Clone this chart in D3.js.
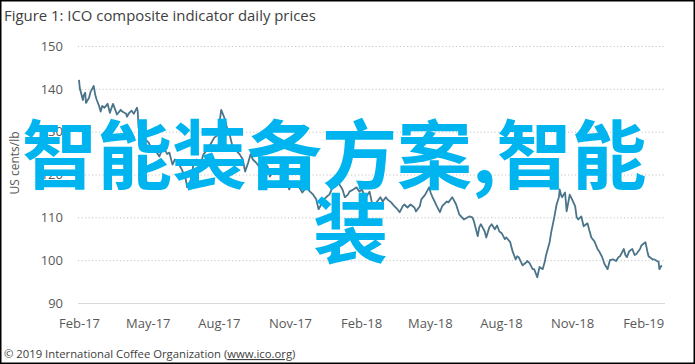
<!DOCTYPE html>
<html>
<head>
<meta charset="utf-8">
<script src="https://cdn.jsdelivr.net/npm/d3@7"></script>
<style>
  body { margin: 0; background: #fff; }
  svg { display: block; }
  text { font-family: "Open Sans", sans-serif; }
</style>
</head>
<body>
<div id="chart"></div>
<script>
const dates = [
  "2017-02-01","2017-02-02","2017-02-06","2017-02-07","2017-02-09","2017-02-10","2017-02-14","2017-02-16","2017-02-20","2017-02-22","2017-02-24","2017-02-27",
  "2017-03-01","2017-03-03","2017-03-06","2017-03-10","2017-03-13","2017-03-17","2017-03-20","2017-03-22","2017-03-27","2017-03-29",
  "2017-04-03","2017-04-04","2017-04-07","2017-04-10","2017-04-13","2017-04-17","2017-04-18","2017-04-19","2017-04-24","2017-04-26","2017-04-28",
  "2017-05-02","2017-05-05","2017-05-10","2017-05-12","2017-05-16","2017-05-19","2017-05-23","2017-05-26","2017-05-29",
  "2017-06-02","2017-06-05","2017-06-08","2017-06-12","2017-06-14","2017-06-19","2017-06-21","2017-06-26","2017-06-29",
  "2017-07-03","2017-07-07","2017-07-12","2017-07-17","2017-07-21","2017-07-26","2017-07-31",
  "2017-08-02","2017-08-04","2017-08-08","2017-08-11","2017-08-15","2017-08-18","2017-08-21","2017-08-25","2017-08-28",
  "2017-09-01","2017-09-04","2017-09-08","2017-09-11","2017-09-14","2017-09-18","2017-09-22","2017-09-27","2017-09-29",
  "2017-10-03","2017-10-06","2017-10-10","2017-10-13","2017-10-18","2017-10-20","2017-10-25","2017-10-27","2017-10-31",
  "2017-11-03","2017-11-08","2017-11-13","2017-11-17","2017-11-22","2017-11-27",
  "2017-12-01","2017-12-05","2017-12-08","2017-12-13","2017-12-15","2017-12-19","2017-12-22","2017-12-26","2017-12-29",
  "2018-01-02","2018-01-04","2018-01-08","2018-01-11","2018-01-15","2018-01-17","2018-01-22","2018-01-26","2018-01-30",
  "2018-02-02","2018-02-05","2018-02-08","2018-02-12","2018-02-16","2018-02-19","2018-02-21","2018-02-26",
  "2018-03-01","2018-03-05","2018-03-07","2018-03-12","2018-03-16","2018-03-20","2018-03-23","2018-03-27","2018-03-29",
  "2018-04-02","2018-04-06","2018-04-11","2018-04-13","2018-04-18","2018-04-20","2018-04-25","2018-04-30",
  "2018-05-02","2018-05-04","2018-05-10","2018-05-14","2018-05-17","2018-05-23","2018-05-25","2018-05-30",
  "2018-06-04","2018-06-08","2018-06-14","2018-06-21","2018-06-25","2018-06-27",
  "2018-07-02","2018-07-04","2018-07-06","2018-07-11","2018-07-13","2018-07-17","2018-07-20","2018-07-24","2018-07-27","2018-07-30",
  "2018-08-02","2018-08-06","2018-08-08","2018-08-13","2018-08-16","2018-08-20","2018-08-22","2018-08-24","2018-08-29",
  "2018-09-03","2018-09-04","2018-09-07","2018-09-11","2018-09-13","2018-09-17","2018-09-20","2018-09-24","2018-09-27","2018-09-28",
  "2018-10-03","2018-10-05","2018-10-09","2018-10-12","2018-10-15","2018-10-16","2018-10-18","2018-10-19","2018-10-23","2018-10-25","2018-10-29",
  "2018-11-01","2018-11-05","2018-11-07","2018-11-09","2018-11-13","2018-11-16","2018-11-21","2018-11-23","2018-11-26","2018-11-30",
  "2018-12-04","2018-12-06","2018-12-10","2018-12-13","2018-12-17","2018-12-20","2018-12-24","2018-12-28","2018-12-31",
  "2019-01-02","2019-01-07","2019-01-09","2019-01-11","2019-01-14","2019-01-18","2019-01-21","2019-01-23","2019-01-28","2019-01-30",
  "2019-02-04","2019-02-07","2019-02-08","2019-02-13","2019-02-15","2019-02-19","2019-02-21","2019-02-22","2019-02-25"
];

const prices = [
  142.1,140.2,137.4,138.4,139.1,136.7,137.9,139.3,140.7,138.6,137.4,136.0,
  134.7,136.0,135.6,136.5,134.4,136.5,135.1,134.0,135.1,134.7,
  134.2,133.5,134.4,134.9,134.2,135.6,134.7,131.0,127.7,129.0,128.1,
  127.5,126.4,125.8,125.3,124.2,125.6,125.8,124.8,125.1,
  122.3,123.5,123.3,121.8,121.2,119.0,117.0,118.8,122.3,
  123.5,121.6,124.7,125.8,127.0,128.6,129.3,
  132.3,135.1,133.3,131.2,129.3,127.0,125.8,125.3,124.7,
  123.5,120.7,122.8,124.7,123.5,122.8,121.9,123.0,122.3,
  121.9,119.5,120.7,120.5,121.2,120.7,121.2,120.0,116.5,
  117.7,118.1,117.0,115.8,117.0,116.0,
  115.3,114.2,111.9,113.5,114.2,114.9,115.3,117.0,118.1,
  118.8,117.7,116.5,114.7,115.3,116.0,116.5,117.0,116.0,
  116.5,115.3,114.9,116.0,112.6,113.0,113.5,114.7,
  113.7,114.7,114.2,113.5,112.6,111.9,111.2,112.6,113.0,
  112.3,113.0,112.3,111.4,112.6,114.2,115.3,117.0,
  115.8,114.9,112.6,111.2,112.6,113.7,113.5,114.7,
  113.0,110.7,109.5,110.2,110.0,109.1,
  105.6,107.7,108.4,106.7,105.3,107.7,108.4,107.2,108.1,106.7,
  106.3,104.9,105.3,104.2,102.1,100.2,100.9,100.7,98.8,
  99.5,99.8,99.3,97.9,97.9,96.0,98.4,97.9,99.8,100.9,
  104.2,106.5,110.0,113.0,114.7,116.5,115.1,114.7,115.8,111.4,115.3,
  114.2,112.6,110.0,109.5,110.2,107.9,108.6,107.2,105.3,104.4,
  102.6,102.1,100.7,99.1,97.9,100.0,100.2,99.8,100.7,
  100.9,102.6,101.2,100.7,102.1,102.6,101.2,101.4,102.6,103.5,
  104.2,101.6,100.9,100.2,100.2,99.8,99.6,97.9,98.8
];

const yTicks = [90, 100, 110, 120, 130, 140, 150];
const xTickDates = ["2017-02-01","2017-05-01","2017-08-01","2017-11-01","2018-02-01","2018-05-01","2018-08-01","2018-11-01","2019-02-01"];
const xTickLabels = ["Feb-17","May-17","Aug-17","Nov-17","Feb-18","May-18","Aug-18","Nov-18","Feb-19"];

const titleText = "Figure 1: ICO composite indicator daily prices";
const yTitleText = "US cents/lb";
const footerText = "© 2019 International Coffee Organization (";
const footerLink = "www.ico.org";
const overlayLines = ["智能装备方案,智能", "装"];

const width = 695, height = 364;
const parse = d3.timeParse("%Y-%m-%d");
const series = dates.map((d, i) => ({ date: parse(d), value: prices[i] }));

const svg = d3.select("#chart").append("svg")
    .attr("width", width)
    .attr("height", height);

const x = d3.scaleTime()
    .domain([parse("2017-02-01"), parse("2019-02-28")])
    .range([79, 664]);

const y = d3.scaleLinear()
    .domain([90, 150])
    .range([303, 46]);

// y axis with gridlines
const yAxis = svg.append("g")
    .attr("transform", "translate(78,0)")
    .call(d3.axisLeft(y).tickValues(yTicks).tickSize(-587).tickPadding(15));

yAxis.select(".domain").remove();
yAxis.selectAll(".tick line")
    .attr("stroke", d => d === 90 ? "#d9d9d9" : "#c4c4c4")
    .attr("stroke-width", 1)
    .attr("stroke-dasharray", d => d === 90 ? null : "1.2,2.3");
yAxis.selectAll(".tick text")
    .attr("fill", "#595959")
    .style("font-size", "13px");

// x axis
const xAxis = svg.append("g")
    .attr("transform", "translate(0,303)")
    .call(d3.axisBottom(x)
        .tickValues(xTickDates.map(parse))
        .tickFormat((d, i) => xTickLabels[i])
        .tickSize(0)
        .tickPadding(16));

xAxis.select(".domain").remove();
xAxis.selectAll(".tick text")
    .attr("fill", "#595959")
    .style("font-size", "13px");

// price line
svg.append("path")
    .datum(series)
    .attr("fill", "none")
    .attr("stroke", "#4a7489")
    .attr("stroke-width", 1.8)
    .attr("stroke-linejoin", "round")
    .attr("d", d3.line().x(d => x(d.date)).y(d => y(d.value)));

// axis title
svg.append("text")
    .attr("transform", "translate(19,163) rotate(-90)")
    .attr("text-anchor", "middle")
    .attr("fill", "#595959")
    .style("font-size", "12px")
    .text(yTitleText);

// chart title
svg.append("text")
    .attr("x", 4)
    .attr("y", 21)
    .attr("fill", "#404040")
    .style("font-size", "14.9px")
    .text(titleText);

// footer
const foot = svg.append("text")
    .attr("x", 4)
    .attr("y", 358)
    .attr("fill", "#404040")
    .style("font-size", "11.3px")
    .text(footerText);
foot.append("tspan")
    .attr("text-decoration", "underline")
    .text(footerLink);
foot.append("tspan")
    .text(")");

// overlay text
svg.selectAll(".overlay")
    .data(overlayLines)
    .enter()
    .append("text")
    .attr("class", "overlay")
    .attr("x", (d, i) => i === 0 ? 22 : 313)
    .attr("y", (d, i) => 183 + i * 74)
    .attr("fill", "#00b4ef")
    .style("font-family", "'Noto Sans CJK SC', sans-serif")
    .style("font-weight", "bold")
    .style("font-size", "75px")
    .text(d => d);

// frame
svg.append("rect")
    .attr("x", 0.75)
    .attr("y", 0.75)
    .attr("width", width - 1.5)
    .attr("height", height - 1.5)
    .attr("fill", "none")
    .attr("stroke", "#000")
    .attr("stroke-width", 1.5);
</script>
</body>
</html>
